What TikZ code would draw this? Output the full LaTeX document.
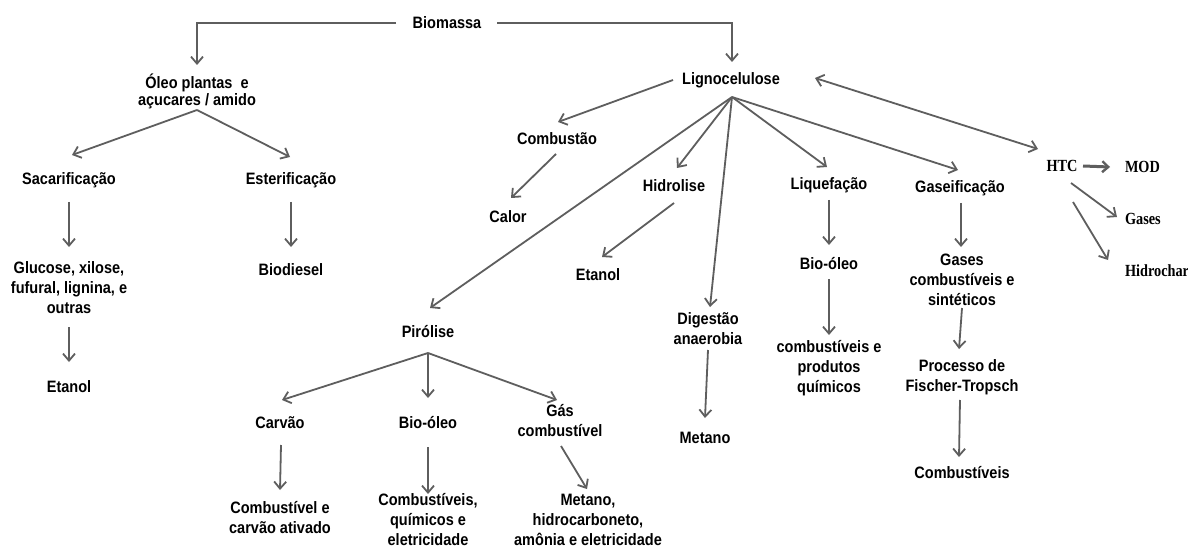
\documentclass[tikz,border=0pt]{standalone}
\usepackage{fontspec}
\setmainfont{Liberation Sans}[FakeStretch=0.88]
\newfontfamily\htcfont{Liberation Serif}[FakeStretch=0.84]
\usetikzlibrary{arrows.meta}

\definecolor{linegray}{HTML}{5E5E5E}

\tikzset{
  lbl/.style={font=\fontsize{16.5}{20}\selectfont\bfseries, align=center,
              inner sep=0pt, outer sep=0pt, text=black},
  lbltight/.style={lbl, font=\fontsize{16.5}{17}\selectfont\bfseries},
  slbl/.style={font=\fontsize{17}{20}\selectfont\htcfont\bfseries,
               inner sep=0pt, outer sep=0pt, anchor=west, text=black},
  conn/.style={draw=linegray, line width=1.8pt,
               -{Straight Barb[length=7pt,width=12pt,line width=1.8pt]}},
  bothconn/.style={conn,
               {Straight Barb[length=7pt,width=12pt,line width=1.8pt]}-{Straight Barb[length=7pt,width=12pt,line width=1.8pt]}},
  heavyconn/.style={draw=linegray, line width=3pt,
               -{Straight Barb[length=6pt,width=11pt,line width=2.4pt]}}
}

\begin{document}
\begin{tikzpicture}[x=1pt, y=-1pt]
  \useasboundingbox (0,0) rectangle (1188,548);
  \fill[white] (0,0) rectangle (1188,548);

  % ---------- labels ----------
  \node[lbl] (bio)  at (447,23)  {Biomassa};
  \node[lbltight] (oleo) at (197,91.5) {Óleo plantas\ \ e\\açucares / amido};
  \node[lbl] (lig)  at (731,80)  {Lignocelulose};

  \node[lbl] (sac)  at (69,180)  {Sacarificação};
  \node[lbl] (est)  at (291,180) {Esterificação};
  \node[lbl] (glu)  at (69,288)  {Glucose, xilose,\\fufural, lignina, e\\outras};
  \node[lbl] (etl)  at (69,387)  {Etanol};
  \node[lbl] (biod) at (291,270) {Biodiesel};

  \node[lbl] (comb) at (557,139) {Combustão};
  \node[lbl] (cal)  at (508,217) {Calor};
  \node[lbl] (hid)  at (674,186) {Hidrolise};
  \node[lbl] (eth)  at (598,275) {Etanol};
  \node[lbl] (pir)  at (428,332) {Pirólise};
  \node[lbl] (dig)  at (708,329) {Digestão\\anaerobia};
  \node[lbl] (met)  at (705,438) {Metano};

  \node[lbl] (liq)  at (829,185) {Liquefação};
  \node[lbl] (lbo)  at (829,264) {Bio-óleo};
  \node[lbl] (lcq)  at (829,368) {combustíveis e\\produtos\\químicos};

  \node[lbl] (gas)  at (960,188) {Gaseificação};
  \node[lbl] (gcs)  at (962,280) {Gases\\combustíveis e\\sintéticos};
  \node[lbl] (pft)  at (962,377) {Processo de\\Fischer-Tropsch};
  \node[lbl] (gcomb) at (962,473) {Combustíveis};

  \node[lbl] (carv) at (280,423) {Carvão};
  \node[lbl] (pbo)  at (428,423) {Bio-óleo};
  \node[lbl] (gc)   at (560,421) {Gás\\combustível};
  \node[lbl] (cca)  at (280,518) {Combustível e\\carvão ativado};
  \node[lbl] (cqe)  at (428,520) {Combustíveis,\\químicos e\\eletricidade};
  \node[lbl] (mha)  at (588,520) {Metano,\\hidrocarboneto,\\amônia e eletricidade};

  \node[font=\fontsize{17}{20}\selectfont\htcfont\bfseries, inner sep=0pt] (htc) at (1062,166) {HTC};
  \node[slbl] (mod) at (1125,167) {MOD};
  \node[slbl] (gss) at (1125,219) {Gases};
  \node[slbl] (hch) at (1125,271) {Hidrochar};

  % ---------- branching points ----------
  \coordinate (oh) at ([yshift=-18.5pt]oleo.center);
  \coordinate (lh) at ([xshift=1pt,yshift=-17pt]lig.center);
  \coordinate (ph) at ([yshift=-21pt]pir.center);

  % ---------- connectors ----------
  \draw[conn] ([xshift=-51pt]bio.center) -| ([yshift=26.5pt]oleo.center);
  \draw[conn] ([xshift=50pt]bio.center) -| ([xshift=1pt,yshift=18pt]lig.center);

  \draw[conn] (oh) -- ([xshift=3pt,yshift=25pt]sac.center);
  \draw[conn] (oh) -- ([xshift=-1pt,yshift=23pt]est.center);
  \draw[conn] ([yshift=-22pt]sac.center) -- ([yshift=41pt]glu.center);
  \draw[conn] ([yshift=-39pt]glu.center) -- ([yshift=25pt]etl.center);
  \draw[conn] ([yshift=-22pt]est.center) -- ([yshift=23pt]biod.center);

  \draw[conn] ([xshift=-58pt]lig.center) -- ([xshift=1pt,yshift=17pt]comb.center);
  \draw[conn] ([xshift=-1pt,yshift=-15pt]comb.center) -- ([xshift=3pt,yshift=19pt]cal.center);
  \draw[conn] (lh) -- ([xshift=2pt,yshift=24pt]pir.center);
  \draw[conn] (lh) -- ([xshift=3pt,yshift=18pt]hid.center);
  \draw[conn] (lh) -- ([xshift=2pt,yshift=22pt]dig.center);
  \draw[conn] (lh) -- ([xshift=-2pt,yshift=18pt]liq.center);
  \draw[conn] (lh) -- ([xshift=-2pt,yshift=18pt]gas.center);
  \draw[bothconn] ([xshift=84pt,yshift=2pt]lig.center) -- ([xshift=-24pt,yshift=17pt]htc.center);

  \draw[conn] ([yshift=-17pt]hid.center) -- ([xshift=4pt,yshift=18pt]eth.center);
  \draw[conn] ([yshift=-21pt]dig.center) -- ([yshift=20pt]met.center);

  \draw[conn] ([yshift=-15pt]liq.center) -- ([yshift=19pt]lbo.center);
  \draw[conn] ([yshift=-15pt]lbo.center) -- ([yshift=33pt]lcq.center);

  \draw[conn] ([xshift=1pt,yshift=-15pt]gas.center) -- ([xshift=-1pt,yshift=33pt]gcs.center);
  \draw[conn] ([yshift=-28pt]gcs.center) -- ([xshift=-3pt,yshift=28pt]pft.center);
  \draw[conn] ([xshift=-2pt,yshift=-23pt]pft.center) -- ([xshift=-3pt,yshift=16pt]gcomb.center);

  \draw[heavyconn] ([xshift=21pt]htc.center) -- ([xshift=-15pt]mod.west);
  \draw[conn] ([xshift=9pt,yshift=-17pt]htc.center) -- ([xshift=-8pt,yshift=2pt]gss.west);
  \draw[conn] ([xshift=11pt,yshift=-36pt]htc.center) -- ([xshift=-17pt,yshift=11pt]hch.west);

  \draw[conn] (ph) -- ([xshift=2pt,yshift=23pt]carv.center);
  \draw[conn] (ph) -- ([yshift=25pt]pbo.center);
  \draw[conn] (ph) -- ([xshift=-3pt,yshift=21pt]gc.center);
  \draw[conn] ([xshift=1pt,yshift=-22pt]carv.center) -- ([yshift=28pt]cca.center);
  \draw[conn] ([yshift=-24pt]pbo.center) -- ([yshift=26pt]cqe.center);
  \draw[conn] ([xshift=1pt,yshift=-25pt]gc.center) -- ([xshift=-1pt,yshift=31pt]mha.center);
\end{tikzpicture}
\end{document}
